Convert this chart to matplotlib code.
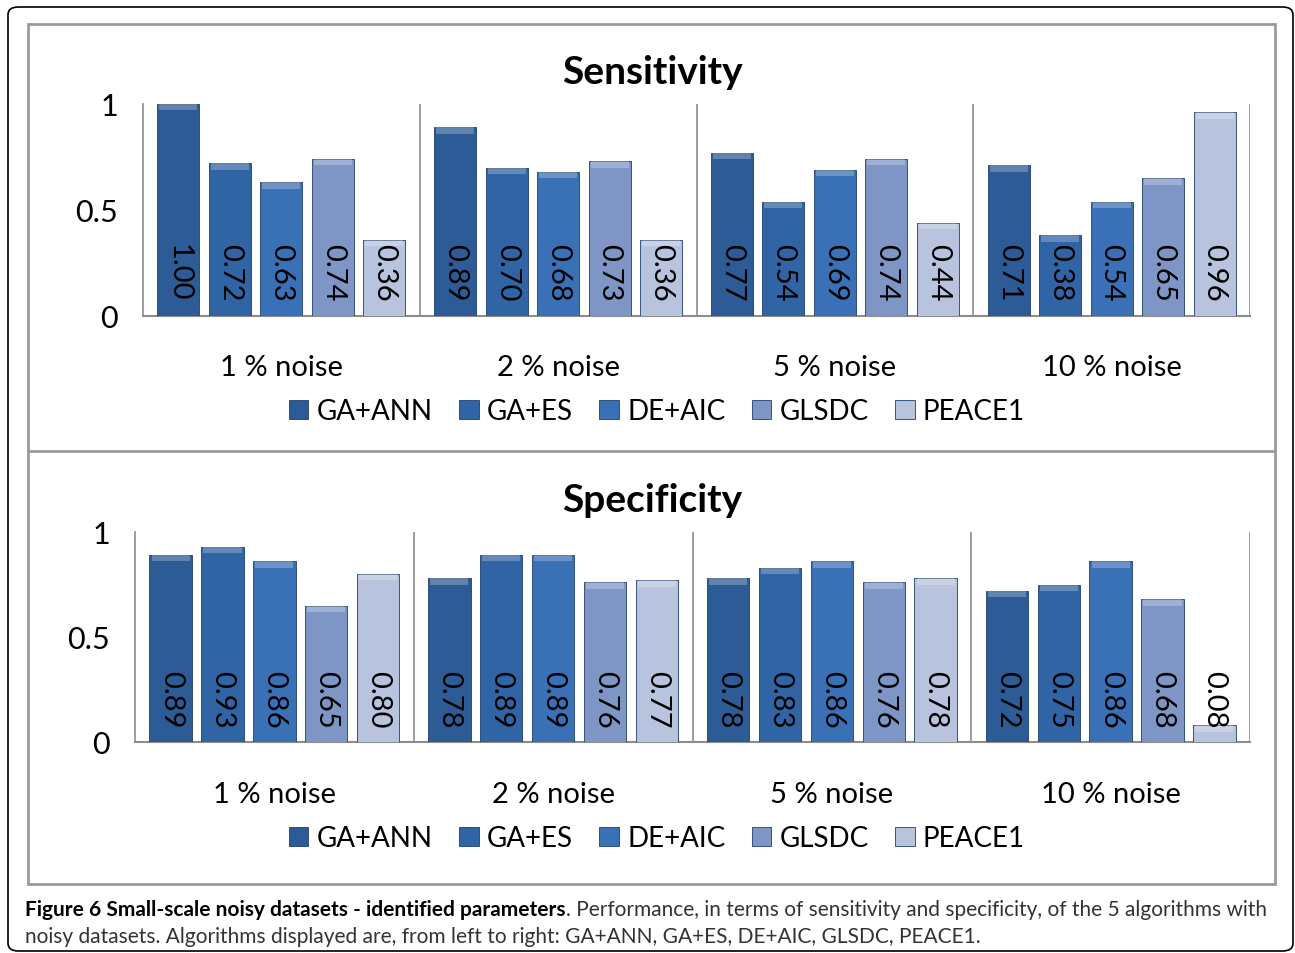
import numpy as np
import matplotlib.pyplot as plt
from matplotlib.patches import Rectangle, FancyBboxPatch

algos = ['GA+ANN', 'GA+ES', 'DE+AIC', 'GLSDC', 'PEACE1']
noise = ['1 % noise', '2 % noise', '5 % noise', '10 % noise']
colors = ['#2c5b95', '#3164a4', '#3a70b6', '#7e96c6', '#b8c3dd']

# rows = noise level, cols = algorithm
sens = np.array([[1.00, 0.72, 0.63, 0.74, 0.36],
                 [0.89, 0.70, 0.68, 0.73, 0.36],
                 [0.77, 0.54, 0.69, 0.74, 0.44],
                 [0.71, 0.38, 0.54, 0.65, 0.96]])
spec = np.array([[0.89, 0.93, 0.86, 0.65, 0.80],
                 [0.78, 0.89, 0.89, 0.76, 0.77],
                 [0.78, 0.83, 0.86, 0.76, 0.78],
                 [0.72, 0.75, 0.86, 0.68, 0.08]])

plt.rcParams['font.family'] = ['Lato', 'DejaVu Sans']

W, H = 1295, 954
fig = plt.figure(figsize=(W / 100, H / 100), dpi=100)


def fx(x):
    return x / W


def fy(y):
    return 1 - y / H


# frames
fig.patches.append(FancyBboxPatch((fx(8), fy(952)), fx(1285), 944 / H,
                                  boxstyle='round,pad=0,rounding_size=0.008',
                                  transform=fig.transFigure, fill=False,
                                  ec='black', lw=1.2))
fig.patches.append(Rectangle((fx(28), fy(885)), fx(1247), 860 / H,
                             transform=fig.transFigure, fill=False,
                             ec='#9a9a9a', lw=2))
fig.lines.append(plt.Line2D([fx(28), fx(1275)], [fy(452), fy(452)],
                            transform=fig.transFigure, color='#9a9a9a', lw=2))


def panel(rect, data, title, title_y, cat_y, leg_y):
    ax = fig.add_axes(rect)
    ng, na = data.shape
    step = 0.186
    width = 0.152
    x = np.arange(ng)
    for j in range(na):
        xs = x + (j - 2) * step
        ax.bar(xs, data[:, j], width, color=colors[j],
               edgecolor='#1f3f6a', lw=0.6, label=algos[j], zorder=3)
        # light bevel at top of each bar
        cap = np.minimum(0.03, data[:, j])
        ax.bar(xs, cap, width * 0.9, bottom=data[:, j] - cap,
               color='white', alpha=0.25, lw=0, zorder=4)
        for xi, v in zip(xs, data[:, j]):
            ax.text(xi, 0.345, '%.2f' % v, rotation=270, ha='center',
                    va='top', fontsize=21, zorder=5)
    ax.set_xlim(-0.5, ng - 0.5)
    ax.set_ylim(0, 1)
    for b in np.arange(ng) + 0.5:
        ax.axvline(b, color='#8c8c8c', lw=1.2, zorder=1)
    for s in ['top', 'right']:
        ax.spines[s].set_visible(False)
    ax.spines['left'].set_color('#8c8c8c')
    ax.spines['bottom'].set_color('#8c8c8c')
    ax.spines['left'].set_linewidth(1.2)
    ax.spines['bottom'].set_linewidth(1.5)
    ax.set_yticks([0, 0.5, 1])
    ax.set_yticklabels(['0', '0.5', '1'], fontsize=22)
    ax.tick_params(axis='y', length=0, pad=18)
    ax.set_xticks([])
    bottom_px = (1 - rect[1]) * H
    for i, n in enumerate(noise):
        ax.text(i, -(cat_y - bottom_px) / (rect[3] * H), n,
                transform=ax.get_xaxis_transform(), ha='center',
                va='center', fontsize=21)
    fig.text(0.504, fy(title_y), title, ha='center', va='center',
             fontsize=28, fontweight='bold')
    handles = [Rectangle((0, 0), 1, 1, fc=c, ec='#1f3f6a', lw=0.6) for c in colors]
    fig.legend(handles, algos, loc='center', bbox_to_anchor=(fx(657), fy(leg_y)),
               ncol=5, frameon=False, fontsize=20, handlelength=0.7,
               handleheight=0.7, handletextpad=0.3, columnspacing=0.95)
    return ax


panel([fx(143), fy(317), fx(1250 - 143), 212 / H], sens, 'Sensitivity', 73, 368, 412)
panel([fx(135), fy(743), fx(1250 - 135), 210 / H], spec, 'Specificity', 500, 795, 839)

# caption: bold lead followed by regular text
t1 = fig.text(fx(25), fy(910), 'Figure 6 Small-scale noisy datasets - identified parameters',
              fontsize=15, fontweight='bold', va='center', ha='left')
fig.canvas.draw()
bb = t1.get_window_extent()
fig.text(bb.x1 / W, fy(910),
         '. Performance, in terms of sensitivity and specificity, of the 5 algorithms with',
         fontsize=15, va='center', ha='left', color='#333333')
fig.text(fx(25), fy(937),
         'noisy datasets. Algorithms displayed are, from left to right: GA+ANN, GA+ES, DE+AIC, GLSDC, PEACE1.',
         fontsize=15, va='center', ha='left', color='#333333')

fig.savefig('out.png', dpi=100)
